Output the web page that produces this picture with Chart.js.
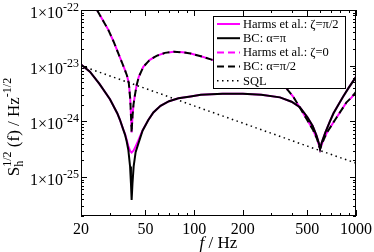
<!DOCTYPE html>
<html>
<head>
<meta charset="utf-8">
<script src="https://cdn.jsdelivr.net/npm/chart.js@4/dist/chart.umd.min.js"></script>
<style>
  html, body { margin: 0; padding: 0; background: #fff; }
  #wrap { width: 374px; height: 252px; }
</style>
</head>
<body>
<div id="wrap"><canvas id="noiseChart"></canvas></div>
<script>
// BC: alpha = pi (solid black)
const bcPiFreq = [20, 22.7, 26, 30.2, 33.5, 34.8, 36.5, 37.4, 38.3, 39.2, 40.2, 40.7, 41.1, 41.6, 42.3, 43.5, 45, 48, 52, 56, 62, 70, 80, 95, 110, 150, 200, 260, 339, 400, 450, 500, 540, 571, 590, 600, 615, 646, 690, 726, 780, 830, 900, 1000];
const bcPiVals = [1.05e-23, 7.8e-24, 4.7e-24, 2.5e-24, 1.4e-24, 1.07e-24, 7.1e-25, 5.8e-25, 4.4e-25, 3.1e-25, 1.55e-25, 7.8e-26, 3.9e-26, 7.8e-26, 1.55e-25, 2.8e-25, 3.8e-25, 6.8e-25, 1.05e-24, 1.45e-24, 1.9e-24, 2.3e-24, 2.6e-24, 2.8e-24, 3.0e-24, 3.15e-24, 3.15e-24, 3.0e-24, 2.7e-24, 2.25e-24, 1.8e-24, 1.2e-24, 8.3e-25, 5.5e-25, 4.0e-25, 3.2e-25, 4.2e-25, 6.3e-25, 1.0e-24, 1.4e-24, 2.0e-24, 2.75e-24, 4.0e-24, 6.3e-24];

// Harms et al.: zeta = pi/2 (solid magenta)
const harmsPi2Freq = [20, 22.7, 26, 30.2, 33.5, 34.8, 36.5, 37.4, 38.3, 39.2, 40.2, 41.1, 42.3, 43.5, 45, 48, 52, 56, 62, 70, 80, 95, 110, 150, 200, 260, 339, 400, 450, 500, 540, 571, 590, 600, 615, 646, 690, 726, 780, 830, 900, 1000];
const harmsPi2Vals = [1.05e-23, 7.8e-24, 4.7e-24, 2.5e-24, 1.4e-24, 1.07e-24, 7.1e-25, 6.0e-25, 4.7e-25, 3.6e-25, 2.95e-25, 2.75e-25, 3.0e-25, 3.55e-25, 4.4e-25, 6.9e-25, 1.05e-24, 1.45e-24, 1.9e-24, 2.3e-24, 2.6e-24, 2.8e-24, 3.0e-24, 3.15e-24, 3.15e-24, 3.0e-24, 2.7e-24, 2.25e-24, 1.8e-24, 1.2e-24, 8.3e-25, 5.5e-25, 4.0e-25, 3.2e-25, 4.2e-25, 6.3e-25, 1.0e-24, 1.4e-24, 2.0e-24, 2.75e-24, 4.0e-24, 6.3e-24];

// BC: alpha = pi/2 (dashed black)
const bcPi2Freq = [20, 22.5, 25.1, 27.5, 29.5, 32, 34, 36, 37.4, 38.5, 39.5, 40.3, 40.8, 41.1, 41.5, 42.2, 43.1, 44.1, 45.5, 48.5, 53, 58.6, 66, 75, 85, 95, 110, 131, 160, 200, 250, 300, 339, 375, 410, 472, 542, 575, 600, 625, 659, 710, 762, 820, 874, 940, 1000];
const bcPi2Vals = [3.2e-22, 1.8e-22, 1.0e-22, 6.3e-23, 4.4e-23, 2.6e-23, 1.66e-23, 1.1e-23, 8.3e-24, 6.6e-24, 4.8e-24, 2.5e-24, 1.1e-24, 6.3e-25, 1.1e-24, 2.0e-24, 3.0e-24, 4.4e-24, 6.3e-24, 9.5e-24, 1.26e-23, 1.5e-23, 1.7e-23, 1.78e-23, 1.74e-23, 1.66e-23, 1.48e-23, 1.26e-23, 1.07e-23, 9.1e-24, 7.6e-24, 6.3e-24, 5.1e-24, 3.8e-24, 2.75e-24, 1.4e-24, 7.1e-25, 4.8e-25, 3.2e-25, 4.4e-25, 6.2e-25, 8.7e-25, 1.2e-24, 1.66e-24, 2.2e-24, 2.7e-24, 3.4e-24];

// Harms et al.: zeta = 0 (dashed magenta)
const harms0Freq = bcPi2Freq;
const harms0Vals = [3.2e-22, 1.8e-22, 1.0e-22, 6.3e-23, 4.4e-23, 2.6e-23, 1.66e-23, 1.1e-23, 8.3e-24, 6.6e-24, 4.8e-24, 2.5e-24, 1.1e-24, 6.3e-25, 1.1e-24, 2.0e-24, 3.0e-24, 4.4e-24, 6.3e-24, 9.5e-24, 1.26e-23, 1.5e-23, 1.7e-23, 1.78e-23, 1.74e-23, 1.66e-23, 1.48e-23, 1.26e-23, 1.07e-23, 9.1e-24, 7.6e-24, 6.3e-24, 5.1e-24, 3.8e-24, 2.75e-24, 1.4e-24, 7.1e-25, 4.8e-25, 3.2e-25, 4.4e-25, 6.2e-25, 8.7e-25, 1.2e-24, 1.66e-24, 2.2e-24, 2.7e-24, 3.4e-24];

// standard quantum limit (dotted)
const sqlFreq = [20, 50, 100, 200, 500, 1000];
const sqlVals = [1.0e-23, 3.9e-24, 1.9e-24, 9.3e-25, 3.6e-25, 1.78e-25];

const xTicks = [20, 50, 100, 200, 500, 1000];
const yTickExps = [-22, -23, -24, -25];
const legendLabels = ['Harms et al.: ζ=π/2', 'BC: α=π', 'Harms et al.: ζ=0', 'BC: α=π/2', 'SQL'];

const SERIF = '"Liberation Serif", "Times New Roman", serif';
const DASH = [7, 4];

function pts(fs, vs) {
    return fs.map((f, i) => ({ x: f, y: vs[i] }));
}

// frame, inward ticks, labels, titles and legend drawn on top
const decorations = {
    id: 'decorations',
    afterDraw(chart) {
        const { ctx, chartArea: a, scales: { x, y } } = chart;
        ctx.save();

        // legend box
        const bx = 213, by = 16.5, bw = 132, bh = 72;
        ctx.fillStyle = '#fff';
        ctx.fillRect(bx, by, bw, bh);
        ctx.strokeStyle = '#000';
        ctx.lineWidth = 1;
        ctx.strokeRect(bx + 0.5, by, bw, bh);
        legendLabels.forEach((lab, i) => {
            const ds = chart.data.datasets.find(d => d.label === lab);
            const ry = by + 7.5 + i * 14.2;
            ctx.save();
            ctx.strokeStyle = ds.borderColor;
            ctx.lineWidth = ds.borderWidth;
            ctx.setLineDash(ds.borderDash || []);
            ctx.beginPath();
            ctx.moveTo(bx + 4, ry);
            ctx.lineTo(bx + 27, ry);
            ctx.stroke();
            ctx.restore();
            ctx.fillStyle = '#000';
            ctx.font = '12.5px ' + SERIF;
            ctx.textAlign = 'left';
            ctx.textBaseline = 'middle';
            ctx.fillText(lab, bx + 30, ry + 0.5);
        });

        // frame
        ctx.strokeStyle = '#000';
        ctx.lineWidth = 1;
        ctx.setLineDash([]);
        ctx.strokeRect(a.left + 0.5, a.top + 0.5, a.right - a.left - 1, a.bottom - a.top - 1);

        // x ticks
        ctx.beginPath();
        for (let d = 10; d <= 1000; d *= 10) {
            for (let m = 1; m <= 9; m++) {
                const v = m * d;
                if (v < 20 || v > 1000) continue;
                const len = xTicks.includes(v) ? 6 : 3;
                const px = Math.round(x.getPixelForValue(v)) + 0.5;
                ctx.moveTo(px, a.bottom); ctx.lineTo(px, a.bottom - len);
                ctx.moveTo(px, a.top); ctx.lineTo(px, a.top + len);
            }
        }
        // y ticks
        for (let e = -26; e <= -23; e++) {
            for (let m = 1; m <= 9; m++) {
                const v = m * Math.pow(10, e);
                if (v < y.min * 0.999 || v > y.max * 1.001) continue;
                const len = m === 1 ? 6 : 3;
                const py = Math.round(y.getPixelForValue(v)) + 0.5;
                ctx.moveTo(a.left, py); ctx.lineTo(a.left + len, py);
                ctx.moveTo(a.right, py); ctx.lineTo(a.right - len, py);
            }
        }
        const py22 = Math.round(y.getPixelForValue(1e-22)) + 0.5;
        ctx.moveTo(a.left, py22); ctx.lineTo(a.left + 6, py22);
        ctx.moveTo(a.right, py22); ctx.lineTo(a.right - 6, py22);
        ctx.stroke();

        // x tick labels
        ctx.fillStyle = '#000';
        ctx.font = '16px ' + SERIF;
        ctx.textAlign = 'center';
        ctx.textBaseline = 'alphabetic';
        xTicks.forEach(v => {
            ctx.fillText(String(v), x.getPixelForValue(v), a.bottom + 18);
        });

        // y tick labels 1x10^n
        yTickExps.forEach(e => {
            const py = y.getPixelForValue(Math.pow(10, e));
            ctx.font = '12px ' + SERIF;
            const sup = String(e);
            const sw = ctx.measureText(sup).width;
            ctx.textAlign = 'left';
            ctx.fillText(sup, 79 - sw, py + 1);
            ctx.font = '16px ' + SERIF;
            ctx.textAlign = 'right';
            ctx.fillText('1×10', 79 - sw, py + 8);
        });

        // x title
        ctx.font = 'italic 17px ' + SERIF;
        const fW = ctx.measureText('f').width;
        ctx.font = '17px ' + SERIF;
        const restW = ctx.measureText(' / Hz').width;
        const cx = (a.left + a.right) / 2 - (fW + restW) / 2;
        ctx.textAlign = 'left';
        ctx.font = 'italic 17px ' + SERIF;
        ctx.fillText('f', cx, 248);
        ctx.font = '17px ' + SERIF;
        ctx.fillText(' / Hz', cx + fW, 248);

        // y title (rotated)
        ctx.save();
        ctx.translate(19, 127);
        ctx.rotate(-Math.PI / 2);
        const parts = [
            { t: 'S', f: '17px', dy: 0 },
            { t: 'h', f: '12px', dy: 4, stack: true },
            { t: '1/2', f: '12px', dy: -8 },
            { t: ' (f) / Hz', f: '17px', dy: 0 },
            { t: '-1/2', f: '12px', dy: -8 }
        ];
        let total = 0;
        const widths = parts.map(p => {
            ctx.font = p.f + ' ' + SERIF;
            const w = p.stack ? 0 : ctx.measureText(p.t).width;
            total += w;
            return w;
        });
        let tx = -total / 2;
        ctx.textAlign = 'left';
        parts.forEach((p, i) => {
            ctx.font = p.f + ' ' + SERIF;
            ctx.fillText(p.t, tx, p.dy);
            tx += widths[i];
        });
        ctx.restore();

        ctx.restore();
    }
};

new Chart(document.getElementById('noiseChart').getContext('2d'), {
    type: 'line',
    data: {
        datasets: [{
            label: 'BC: α=π',
            data: pts(bcPiFreq, bcPiVals),
            borderColor: '#000000',
            borderWidth: 2,
            order: 1
        }, {
            label: 'BC: α=π/2',
            data: pts(bcPi2Freq, bcPi2Vals),
            borderColor: '#000000',
            borderWidth: 2,
            borderDash: DASH,
            order: 2
        }, {
            label: 'Harms et al.: ζ=π/2',
            data: pts(harmsPi2Freq, harmsPi2Vals),
            borderColor: '#ff00ff',
            borderWidth: 2,
            order: 3
        }, {
            label: 'Harms et al.: ζ=0',
            data: pts(harms0Freq, harms0Vals),
            borderColor: '#ff00ff',
            borderWidth: 2,
            borderDash: DASH,
            borderDashOffset: 5,
            order: 4
        }, {
            label: 'SQL',
            data: pts(sqlFreq, sqlVals),
            borderColor: '#000000',
            borderWidth: 1.5,
            borderDash: [1.5, 3.5],
            order: 0
        }]
    },
    options: {
        responsive: true,
        maintainAspectRatio: false,
        animation: false,
        layout: { padding: { left: 81, right: 18, top: 10, bottom: 36 } },
        elements: { point: { radius: 0 }, line: { tension: 0, fill: false } },
        scales: {
            x: { type: 'logarithmic', display: false, min: 20, max: 1000 },
            y: { type: 'logarithmic', display: false, min: 2e-26, max: 1e-22 }
        },
        plugins: { legend: { display: false }, tooltip: { enabled: false } }
    },
    plugins: [decorations]
});
</script>
</body>
</html>
